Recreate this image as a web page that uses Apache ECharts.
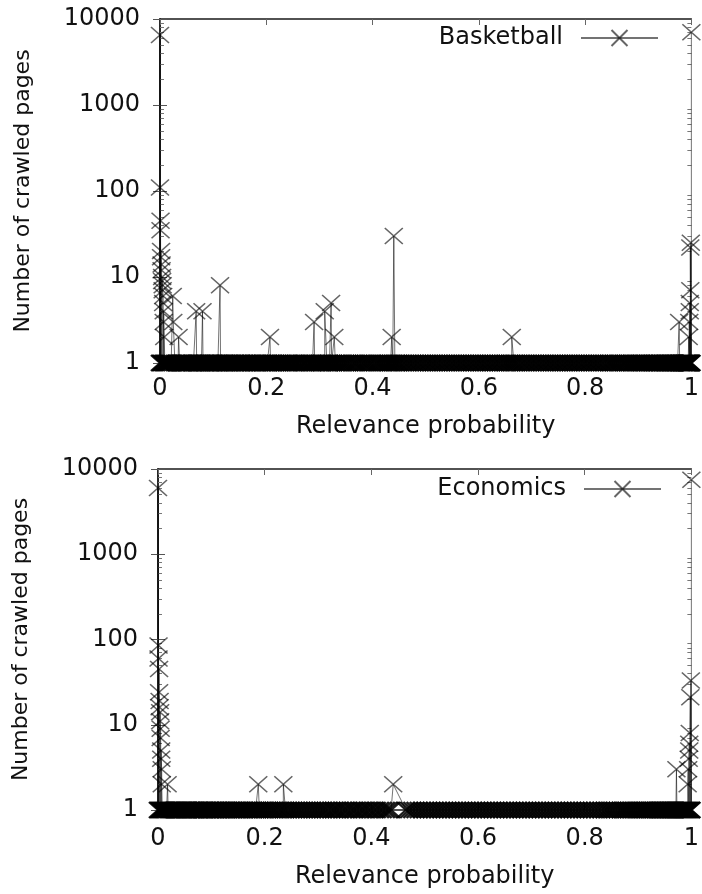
<!DOCTYPE html>
<html>
<head>
<meta charset="utf-8">
<script src="https://cdn.jsdelivr.net/npm/echarts@6/dist/echarts.min.js"></script>
<style>
html,body{margin:0;padding:0;background:#fff;}
#chart{width:702px;height:894px;}
</style>
</head>
<body>
<div id="chart"></div>
<script>
// ---- data ----
const xTickValues = [0, 0.2, 0.4, 0.6, 0.8, 1];
const yTickValues = [1, 10, 100, 1000, 10000];
const yMinorTicks = [2,3,4,5,6,7,8,9,20,30,40,50,60,70,80,90,200,300,400,500,600,700,800,900,2000,3000,4000,5000,6000,7000,8000,9000];

// Basketball: pages with count 1 at these relevance probabilities
const bbBandX = [0.000,0.002,0.004,0.007,0.009,0.011,0.013,0.015,0.017,0.019,0.021,0.024,0.028,0.031,0.034,0.037,0.039,0.041,0.043,0.045,0.047,0.050,0.052,0.054,0.056,0.059,0.061,0.063,0.066,0.069,0.071,0.073,0.075,0.078,0.081,0.084,0.086,0.088,0.091,0.093,0.095,0.097,0.100,0.102,0.105,0.107,0.109,0.111,0.114,0.116,0.119,0.121,0.124,0.126,0.129,0.131,0.134,0.137,0.140,0.142,0.145,0.148,0.151,0.153,0.156,0.159,0.162,0.164,0.167,0.170,0.173,0.176,0.179,0.181,0.184,0.187,0.190,0.193,0.196,0.199,0.202,0.204,0.208,0.211,0.214,0.217,0.221,0.224,0.228,0.231,0.235,0.238,0.241,0.244,0.248,0.251,0.255,0.258,0.262,0.266,0.270,0.273,0.277,0.281,0.284,0.287,0.291,0.294,0.298,0.301,0.304,0.306,0.310,0.314,0.317,0.319,0.323,0.326,0.330,0.333,0.337,0.341,0.345,0.349,0.353,0.357,0.362,0.366,0.370,0.374,0.379,0.383,0.387,0.391,0.395,0.399,0.404,0.408,0.412,0.416,0.420,0.424,0.428,0.431,0.434,0.438,0.442,0.445,0.449,0.452,0.457,0.461,0.466,0.470,0.475,0.479,0.484,0.488,0.493,0.497,0.502,0.506,0.511,0.515,0.520,0.524,0.529,0.533,0.538,0.542,0.547,0.551,0.556,0.560,0.565,0.569,0.574,0.578,0.583,0.587,0.592,0.596,0.601,0.605,0.610,0.614,0.619,0.623,0.628,0.632,0.637,0.641,0.646,0.650,0.654,0.658,0.662,0.666,0.670,0.674,0.679,0.683,0.688,0.692,0.697,0.701,0.706,0.710,0.715,0.719,0.724,0.728,0.733,0.737,0.742,0.746,0.751,0.755,0.760,0.764,0.769,0.773,0.778,0.782,0.787,0.791,0.796,0.800,0.805,0.809,0.814,0.818,0.823,0.827,0.832,0.836,0.841,0.845,0.849,0.853,0.857,0.861,0.865,0.869,0.873,0.876,0.880,0.883,0.887,0.890,0.894,0.897,0.900,0.903,0.906,0.909,0.912,0.915,0.918,0.921,0.924,0.927,0.930,0.932,0.935,0.937,0.940,0.942,0.945,0.947,0.950,0.952,0.954,0.956,0.958,0.960,0.962,0.964,0.966,0.968,0.970,0.972,0.974,0.976,0.978,0.979,0.981,0.982,0.984,0.985,0.987,0.988,0.990,0.991,0.992,0.993,0.994,0.995,0.996,0.997,0.998,0.999,1.000];
// Basketball: counts above 1
const bbSpikeX =     [0.000,0.000,0.001,0.001,0.002,0.002,0.003,0.003,0.004,0.004,0.005,0.005,0.006,0.006,0.007,0.007,0.008,0.024,0.025,0.035,0.068,0.080,0.113,0.207,0.290,0.310,0.322,0.328,0.436,0.440,0.662,0.977,0.995,0.996,0.997,0.997,0.998,0.998,0.999,1.000];
const bbSpikeCount = [6500, 110,  45,   35,   20,   17,   14,   12,   10,   9,    8,    7,    6,    5,    4,    3,    2,    6,    3,    2,    4,    4,    8,    2,    3,    4,    5,    2,    2,    30,   2,    3,    2,    3,    4,    5,    7,    22,   25,   7000];

// Economics: pages with count 1
const ecBandX = [0.000,0.002,0.004,0.006,0.008,0.010,0.012,0.014,0.016,0.019,0.021,0.023,0.025,0.027,0.029,0.031,0.033,0.035,0.037,0.039,0.041,0.043,0.045,0.047,0.049,0.051,0.053,0.055,0.057,0.060,0.062,0.064,0.066,0.068,0.070,0.073,0.075,0.077,0.079,0.082,0.084,0.086,0.088,0.091,0.093,0.096,0.098,0.101,0.103,0.106,0.108,0.111,0.113,0.116,0.118,0.121,0.124,0.127,0.129,0.132,0.135,0.138,0.141,0.144,0.147,0.150,0.153,0.156,0.159,0.162,0.166,0.169,0.172,0.176,0.179,0.183,0.186,0.190,0.193,0.197,0.201,0.205,0.209,0.213,0.217,0.221,0.226,0.230,0.235,0.239,0.244,0.249,0.254,0.259,0.264,0.269,0.274,0.279,0.284,0.289,0.294,0.299,0.304,0.309,0.314,0.319,0.325,0.330,0.335,0.340,0.346,0.351,0.356,0.362,0.367,0.372,0.378,0.383,0.388,0.394,0.399,0.405,0.410,0.416,0.421,0.427,0.432,0.437,0.465,0.471,0.477,0.483,0.489,0.495,0.501,0.507,0.513,0.519,0.525,0.531,0.537,0.543,0.549,0.555,0.561,0.567,0.573,0.579,0.585,0.591,0.597,0.603,0.609,0.615,0.621,0.627,0.633,0.639,0.645,0.651,0.657,0.663,0.669,0.675,0.681,0.687,0.693,0.699,0.705,0.711,0.717,0.723,0.729,0.735,0.741,0.747,0.753,0.759,0.765,0.771,0.777,0.783,0.789,0.795,0.801,0.807,0.813,0.819,0.825,0.831,0.837,0.842,0.847,0.852,0.857,0.862,0.867,0.871,0.875,0.879,0.883,0.887,0.891,0.895,0.899,0.903,0.906,0.909,0.912,0.915,0.918,0.921,0.924,0.927,0.930,0.933,0.936,0.939,0.941,0.943,0.945,0.947,0.949,0.951,0.953,0.955,0.957,0.959,0.961,0.963,0.965,0.967,0.969,0.971,0.973,0.975,0.977,0.979,0.981,0.983,0.985,0.987,0.989,0.991,0.993,0.995,0.997,0.999,1.000];
// Economics: counts above 1
const ecSpikeX =     [0.000,0.001,0.001,0.002,0.002,0.003,0.003,0.004,0.004,0.005,0.005,0.006,0.006,0.007,0.007,0.018,0.188,0.235,0.441,0.972,0.993,0.994,0.995,0.996,0.996,0.997,0.998,0.999,1.000];
const ecSpikeCount = [6000, 85,   60,   45,   24,   19,   16,   14,   11,   9,    7,    5,    4,    3,    2,    2,    2,    2,    2,    3,    2,    3,    4,    5,    6,    8,    21,   33,   7500];

const seriesNames = ['Basketball', 'Economics'];
const xAxisName = 'Relevance probability';
const yAxisName = 'Number of crawled pages';

// ---- build ----
const BAND_STYLE = {color: 'rgba(0,0,0,0)', borderColor: 'rgba(0,0,0,0.88)', borderWidth: 2.2};
function buildData(bandX, spikeX, spikeCount) {
  const pts = bandX.map((x, i) => ({x: x, y: 1, k: i}));
  spikeX.forEach((x, i) => pts.push({x: x, y: spikeCount[i], k: 100000 + i}));
  pts.sort((a, b) => (a.x - b.x) || (a.k - b.k));
  return pts.map(p => p.y === 1 ? {value: [p.x, p.y], itemStyle: BAND_STYLE} : {value: [p.x, p.y]});
}

const FONT = 'DejaVu Sans';
const AX = '#1a1a1a';
const X_SYMBOL = 'path://M0,0L10,10M0,10L10,0';

const grids = [
  {left: 160, right: 10, top: 19, height: 344},
  {left: 158, right: 6, top: 469, height: 341}
];

const xAxes = [], yAxes = [], series = [], legends = [];
const xGaps = [[14, 52], [17, 55]];
const legendPos = [{right: 38, top: 21}, {right: 35, top: 472}];
const datasets = [
  buildData(bbBandX, bbSpikeX, bbSpikeCount),
  buildData(ecBandX, ecSpikeX, ecSpikeCount)
];

grids.forEach((g, gi) => {
  xAxes.push({
    type: 'value', gridIndex: gi, position: 'bottom', min: 0, max: 1, interval: 0.2,
    name: xAxisName, nameLocation: 'middle', nameGap: xGaps[gi][1],
    nameTextStyle: {fontFamily: FONT, fontSize: 24, color: '#111'},
    axisLine: {show: true, lineStyle: {color: AX, width: 1.5}},
    axisTick: {show: true, inside: true, length: 7, lineStyle: {color: AX}},
    axisLabel: {show: true, margin: xGaps[gi][0], fontFamily: FONT, fontSize: 24, color: '#111',
      customValues: xTickValues, formatter: v => String(Math.round(v * 10) / 10)},
    splitLine: {show: false}
  });
  xAxes.push({
    type: 'value', gridIndex: gi, position: 'top', min: 0, max: 1, interval: 0.2,
    axisLine: {show: true, lineStyle: {color: AX, width: 1.5}},
    axisTick: {show: true, inside: true, length: 6, lineStyle: {color: '#666'}},
    axisLabel: {show: false}, splitLine: {show: false}
  });
  yAxes.push({
    type: 'log', logBase: 10, gridIndex: gi, position: 'left', min: 1, max: 10000,
    name: yAxisName, nameLocation: 'middle', nameGap: 126,
    nameTextStyle: {fontFamily: FONT, fontSize: 22, color: '#111'},
    axisLine: {show: true, lineStyle: {color: AX, width: 1.5}},
    axisTick: {show: true, inside: true, length: 7, lineStyle: {color: '#555'}},
    axisLabel: {show: true, margin: 20, fontFamily: FONT, fontSize: 24, color: '#111',
      customValues: yTickValues, formatter: v => String(Math.round(v))},
    splitLine: {show: false}
  });
  yAxes.push({
    type: 'log', logBase: 10, gridIndex: gi, position: 'right', min: 1, max: 10000,
    axisLine: {show: true, lineStyle: {color: AX, width: 1.5}},
    axisTick: {show: true, inside: true, length: 7, lineStyle: {color: '#555'}},
    axisLabel: {show: false}, splitLine: {show: false}
  });
  yAxes.push({
    type: 'log', logBase: 10, gridIndex: gi, position: 'left', min: 1, max: 10000,
    axisLine: {show: false},
    axisTick: {show: true, inside: true, length: 4, customValues: yMinorTicks, lineStyle: {color: '#777'}},
    axisLabel: {show: false}, splitLine: {show: false}
  });
  yAxes.push({
    type: 'log', logBase: 10, gridIndex: gi, position: 'right', min: 1, max: 10000,
    axisLine: {show: false},
    axisTick: {show: true, inside: true, length: 4, customValues: yMinorTicks, lineStyle: {color: '#777'}},
    axisLabel: {show: false}, splitLine: {show: false}
  });

  series.push({
    type: 'line', name: seriesNames[gi],
    xAxisIndex: gi * 2, yAxisIndex: gi * 4,
    data: datasets[gi],
    symbol: X_SYMBOL, symbolSize: [18, 16], symbolKeepAspect: false,
    showSymbol: true, showAllSymbol: true,
    lineStyle: {color: 'rgba(0,0,0,0.55)', width: 1},
    itemStyle: {color: 'rgba(0,0,0,0)', borderColor: 'rgba(0,0,0,0.6)', borderWidth: 1.5},
    emphasis: {disabled: true},
    animation: false,
    z: 3
  });

  legends.push({
    data: [seriesNames[gi]],
    right: legendPos[gi].right, top: legendPos[gi].top,
    align: 'right', orient: 'horizontal',
    itemWidth: 77, itemHeight: 20,
    textStyle: {fontFamily: FONT, fontSize: 24, color: '#111', padding: [0, 13, 0, 0]},
    selectedMode: false
  });
});

const chart = echarts.init(document.getElementById('chart'), null, {renderer: 'canvas'});
chart.setOption({
  backgroundColor: '#ffffff',
  animation: false,
  grid: grids,
  xAxis: xAxes,
  yAxis: yAxes,
  legend: legends,
  series: series
});
</script>
</body>
</html>
